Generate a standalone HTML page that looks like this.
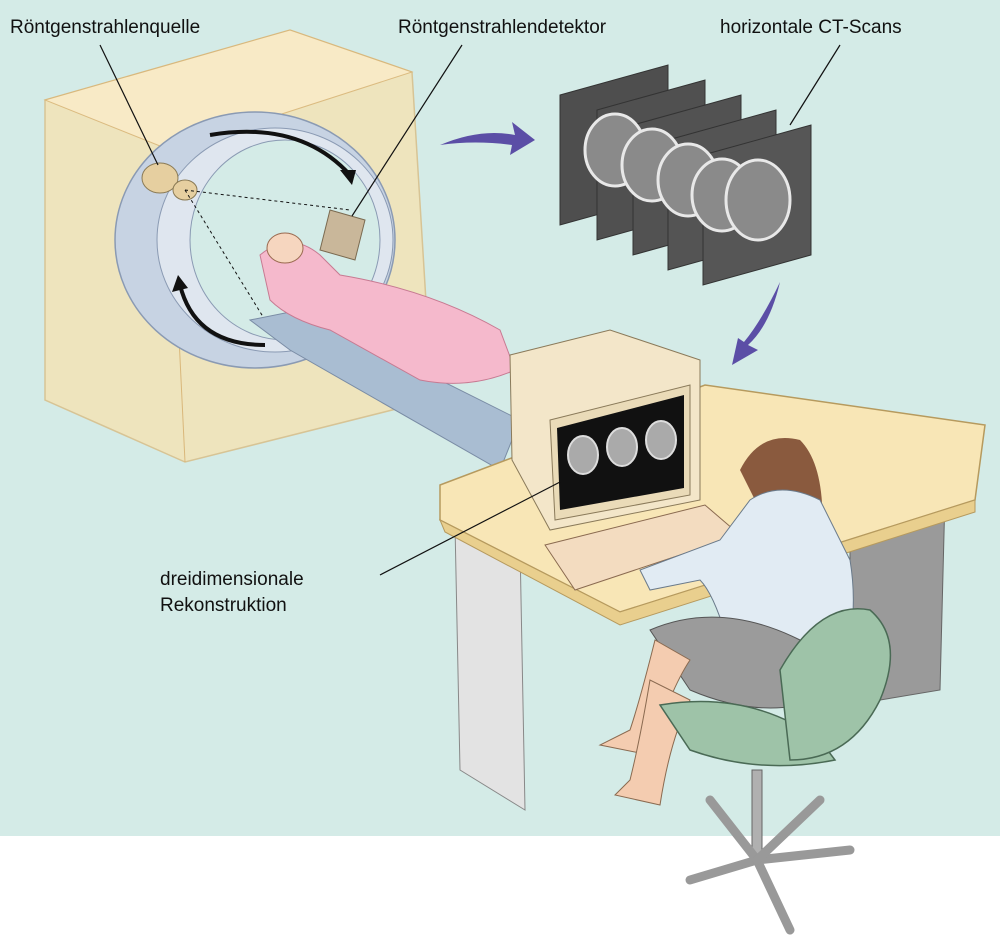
<!DOCTYPE html>
<html><head><meta charset="utf-8"><style>
html,body{margin:0;padding:0;background:#fff}
svg{display:block}
text{font-family:"Liberation Sans",sans-serif;font-size:19px;fill:#111}
</style></head><body>
<svg width="1000" height="952" viewBox="0 0 1000 952" xmlns="http://www.w3.org/2000/svg">
<rect x="0" y="0" width="1000" height="836" fill="#d4ebe7"/>
<!-- gantry box -->
<polygon points="45,100 290,30 412,72 432,400 185,462 45,400" fill="#f7e2b0" stroke="#d9b77a" stroke-width="1.5" opacity="0.75"/>
<polygon points="45,100 290,30 412,72 170,150" fill="#faebc8" stroke="#d9b77a" opacity="0.9"/>
<line x1="170" y1="150" x2="185" y2="462" stroke="#d9b77a"/>
<!-- ring -->
<ellipse cx="255" cy="240" rx="140" ry="128" fill="#c7d3e3" stroke="#8a9ab3" stroke-width="1.5"/>
<ellipse cx="275" cy="240" rx="118" ry="112" fill="#dfe6ef" stroke="#8a9ab3"/>
<ellipse cx="285" cy="240" rx="95" ry="100" fill="#d4ebe7" stroke="#8a9ab3"/>
<path d="M210,135 Q300,120 350,175" fill="none" stroke="#111" stroke-width="4"/>
<polygon points="352,185 340,170 356,170" fill="#111"/>
<path d="M265,345 Q195,345 180,285" fill="none" stroke="#111" stroke-width="4"/>
<polygon points="178,275 172,292 188,288" fill="#111"/>
<ellipse cx="160" cy="178" rx="18" ry="15" fill="#e6cfa0" stroke="#8a7a55"/>
<ellipse cx="185" cy="190" rx="12" ry="10" fill="#e6cfa0" stroke="#8a7a55"/>
<line x1="185" y1="190" x2="350" y2="210" stroke="#111" stroke-dasharray="3,3"/>
<line x1="185" y1="190" x2="265" y2="320" stroke="#111" stroke-dasharray="3,3"/>
<polygon points="330,210 365,220 355,260 320,250" fill="#c9b79a" stroke="#7a6a50"/>
<!-- table -->
<polygon points="250,320 300,310 520,420 500,470 290,350" fill="#a9bdd2" stroke="#7a8ca5"/>
<!-- patient -->
<path d="M260,255 Q290,230 320,255 L340,275 Q430,290 500,330 L515,370 Q470,390 420,380 L330,330 Q290,320 270,300 Z" fill="#f5b9cc" stroke="#c77a92"/>
<ellipse cx="285" cy="248" rx="18" ry="15" fill="#f6d6bf" stroke="#9a6a50"/>
<!-- CT scans -->
<g stroke="#333">
<polygon points="560,95 668,65 668,195 560,225" fill="#4e4e4e"/>
<polygon points="597,110 705,80 705,210 597,240" fill="#505050"/>
<polygon points="633,125 741,95 741,225 633,255" fill="#525252"/>
<polygon points="668,140 776,110 776,240 668,270" fill="#545454"/>
<polygon points="703,155 811,125 811,255 703,285" fill="#565656"/>
</g>
<g fill="#8a8a8a" stroke="#e8e8e8" stroke-width="3">
<ellipse cx="615" cy="150" rx="30" ry="36"/><ellipse cx="652" cy="165" rx="30" ry="36"/>
<ellipse cx="688" cy="180" rx="30" ry="36"/><ellipse cx="722" cy="195" rx="30" ry="36"/>
<ellipse cx="758" cy="200" rx="32" ry="40"/>
</g>
<!-- purple arrows -->
<path d="M440,145 Q480,128 515,135 L512,122 L535,140 L510,155 L512,145 Q475,140 440,145Z" fill="#5b4ea6"/>
<path d="M780,282 Q770,325 748,345 L758,350 L732,365 L738,338 L744,342 Q762,320 780,282Z" fill="#5b4ea6"/>
<!-- desk -->
<polygon points="455,525 520,545 525,810 460,770" fill="#e3e3e3" stroke="#888"/>
<polygon points="850,520 945,495 940,690 850,705" fill="#9a9a9a" stroke="#666"/>
<polygon points="440,485 705,385 985,425 975,500 620,612 440,520" fill="#f8e6b6" stroke="#b69a5e" stroke-width="1.5"/>
<polygon points="440,520 620,612 975,500 975,512 620,625 445,532" fill="#e9cf8e" stroke="#b69a5e"/>
<!-- monitor -->
<polygon points="510,355 610,330 700,360 700,500 550,530 512,460" fill="#f3e6c9" stroke="#8a7a5a"/>
<polygon points="550,420 690,385 690,495 555,520" fill="#eadbb8" stroke="#8a7a5a"/>
<polygon points="557,428 684,395 684,488 560,510" fill="#111"/>
<g fill="#aaa" stroke="#ddd" stroke-width="2"><ellipse cx="583" cy="455" rx="15" ry="19"/><ellipse cx="622" cy="447" rx="15" ry="19"/><ellipse cx="661" cy="440" rx="15" ry="19"/></g>
<!-- keyboard -->
<polygon points="545,545 705,505 740,535 575,590" fill="#f3dcc0" stroke="#8a6a50"/>
<!-- woman -->
<path d="M740,470 Q760,430 800,440 Q830,470 820,560 Q835,610 830,640 L800,640 Q770,560 760,510 Z" fill="#8a5a3e"/>
<path d="M750,500 Q780,480 820,500 L850,560 Q860,620 840,680 L740,690 Q720,600 700,580 L650,590 L640,570 L720,540 Z" fill="#e1ebf3" stroke="#6a7a8a"/>
<path d="M650,630 Q720,600 800,640 L820,700 Q760,720 690,690 Z" fill="#9b9b9b" stroke="#555"/>
<path d="M655,640 Q640,700 630,730 L600,745 L650,755 Q670,690 690,660Z" fill="#f4ccb0" stroke="#8a6a50"/>
<path d="M650,680 Q640,740 630,780 L615,795 L660,805 Q670,740 690,700Z" fill="#f4ccb0" stroke="#8a6a50"/>
<!-- chair -->
<path d="M660,705 Q750,690 820,740 L835,760 Q760,775 690,750 Z" fill="#9ec3a8" stroke="#4a6a55" stroke-width="1.5"/>
<path d="M780,670 Q820,600 870,610 Q905,640 880,700 Q850,760 790,760 Z" fill="#9ec3a8" stroke="#4a6a55" stroke-width="1.5"/>
<rect x="752" y="770" width="10" height="90" fill="#b0b0b0" stroke="#666"/>
<g stroke="#999" stroke-width="9" stroke-linecap="round"><line x1="757" y1="860" x2="690" y2="880"/><line x1="757" y1="860" x2="710" y2="800"/><line x1="757" y1="860" x2="850" y2="850"/><line x1="757" y1="860" x2="790" y2="930"/><line x1="757" y1="860" x2="820" y2="800"/></g>
<!-- leader lines -->
<g stroke="#111" stroke-width="1.2">
<line x1="100" y1="45" x2="158" y2="165"/>
<line x1="462" y1="45" x2="352" y2="216"/>
<line x1="840" y1="45" x2="790" y2="125"/>
<line x1="380" y1="575" x2="560" y2="482"/>
</g>
<text x="10" y="33">Röntgenstrahlenquelle</text>
<text x="398" y="33">Röntgenstrahlendetektor</text>
<text x="720" y="33">horizontale CT-Scans</text>
<text x="160" y="585">dreidimensionale</text>
<text x="160" y="611">Rekonstruktion</text>
</svg>
</body></html>
